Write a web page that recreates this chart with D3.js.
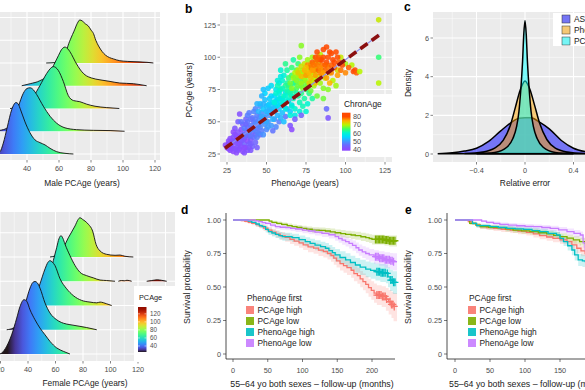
<!DOCTYPE html>
<html><head><meta charset="utf-8">
<script src="https://cdn.jsdelivr.net/npm/d3@7"></script>
<style>
body{margin:0;background:#fff}
text{font-family:"Liberation Sans",Arial,sans-serif}
</style></head><body>
<script>
// ---- panel a: ridgelines (age, density in row units), top row first ----
var maleDens = [
 [[52,0],[58,.02],[62,.1],[64,.35],[65.6,.75],[67.5,1.1],[69.4,1.4],[71.5,1.75],[73,1.89],[74.5,1.85],[76.5,1.72],[78.3,1.63],[80,1.45],[81.5,1.3],[83,1.0],[84.7,.75],[87,.5],[89,.35],[91.5,.24],[94,.18],[98,.1],[103,.07],[110,.05],[115,.03],[119,0]],
 [[36.7,0],[42,.09],[48,.22],[54.4,.57],[56.5,.88],[59.6,1.32],[61.5,1.58],[63.7,1.7],[65.5,1.62],[67.9,1.37],[70,1.08],[72,.84],[74,.64],[76.25,.48],[80.4,.34],[85.6,.26],[91.9,.19],[98,.12],[106.5,.09],[114.8,0]],
 [[29.4,0],[37.7,.13],[41,.3],[44,.53],[48.1,1.01],[52.3,1.54],[54.5,1.75],[56.5,1.84],[58,1.8],[59.6,1.67],[62.7,1.19],[65.8,.57],[69,.35],[73,.3],[77.3,.19],[82.5,.1],[89.8,.04],[97.7,0]],
 [[18,0],[23.1,.04],[27.3,.13],[31.4,.53],[34.6,1.1],[37.7,1.67],[40,1.88],[41.9,1.91],[44,1.82],[46,1.62],[50.2,1.1],[54.4,.66],[58.6,.35],[63.75,.15],[71,.07],[81.4,.04],[91.9,.03],[101,0]],
 [[20,0],[23.1,.1],[25.2,.48],[27.7,1.19],[30.4,1.94],[33.1,2.26],[34.5,2.2],[36,1.94],[38.75,1.41],[41.9,.93],[45,.62],[48.1,.5],[51.25,.4],[54.4,.25],[58.6,.1],[63.75,.03],[69,0]]
];
var femaleDens = [
 [[56,0],[60,.05],[63,.15],[65.7,.38],[69.3,.79],[74.2,1.28],[76.5,1.55],[77.8,1.62],[79.5,1.56],[81.5,1.48],[83.9,1.35],[87,1.07],[89.5,.52],[92.4,.25],[97.2,.11],[103.3,.07],[106.9,.08],[110.5,.03],[116.6,0]],
 [[50,0],[53.6,.05],[56,.3],[58.4,.85],[60.9,1.4],[62.5,1.75],[64,1.88],[65.3,1.78],[66.9,1.53],[70.5,1.06],[74.2,.65],[77.8,.37],[82.7,.23],[87.5,.14],[92.4,.05],[97.2,.03],[103.3,0],null,[105.7,0],[108,.03],[110,.02],[112,.04],[115.4,0],null,[126.3,0],[130,.03],[134,.06],[137,.04],[140.9,0]],
 [[40,0],[43,.1],[46.3,.48],[48.7,.89],[52.4,1.51],[54.5,1.78],[56,1.85],[57.5,1.8],[59.6,1.65],[63.3,1.1],[68.1,.69],[72.9,.41],[79,.21],[85.1,.14],[90,.11],[92.4,.14],[97.2,.07],[100.9,0]],
 [[24.5,0],[29.3,.07],[34.2,.34],[37.8,1.03],[41.5,1.72],[43.5,1.95],[45.1,1.99],[46.8,1.93],[48.7,1.72],[52.4,1.1],[56,.69],[60.9,.41],[65.7,.27],[70.5,.21],[77.8,.14],[82.7,.09],[90,0]],
 [[19,0],[20.9,.04],[24.5,.32],[28.1,.79],[31.8,1.48],[34.2,1.96],[37.1,2.24],[39.1,2.17],[41.5,1.82],[45.1,1.41],[48.7,1.07],[52.4,.79],[56,.52],[60.9,.25],[65.7,.11],[70.5,0]]
];
var ridgeRows = [4,3,2,1,0];
var maleAgeTicks = [40,60,80,100,120];
var femaleAgeTicks = [20,40,60,80,100,120];
var pcLegendTicks = [40,60,80,100,120];

// ---- panel b: [PhenoAge, PCAge, ChronAge] ----
var points = [
 [25,30,40],[26,33,41],[27,28,39],[28,35,40],[28,31,42],[29,38,41],[29,27,40],[30,34,39],[30,40,43],[31,30,41],[31,36,40],[32,33,42],[32,42,41],[33,29,40],[33,38,39],[34,35,43],[34,31,41],[35,40,42],[35,27,40],[36,33,44],[36,37,41],[37,30,43],[37,43,42],[38,35,40],[38,28,41],[39,39,44],[39,33,43],[40,36,42],[41,31,44],[41,42,43],[42,38,45],[43,34,44],[44,45,44],[30,45,42],[32,50,43],[33,56,41],[29,42,40],[27,37,39],[26,35,40],[35,48,43],[37,52,44],[40,28,42],[44,30,43],[36,26,41],[31,26,40],[34,44,41],[38,46,44],[42,50,45],[46,40,44],[24,32,39],
 [27,32,41],[29,35,42],[31,39,40],[33,33,41],[35,36,42],[37,39,43],[39,30,42],[28,29,40],[32,28,41],[34,39,42],[36,30,40],[40,33,43],[26,29,39],[30,29,41],[43,40,45],
 [36,45,47],[38,50,46],[39,42,48],[40,47,47],[41,53,46],[42,44,49],[43,49,48],[44,55,47],[45,41,49],[45,51,50],[46,46,48],[47,57,49],[47,43,47],[48,52,50],[49,48,49],[50,44,48],[50,55,50],[51,50,49],[52,60,50],[42,58,48],[40,39,46],[44,38,47],[48,40,49],[53,47,50],[36,40,46],[38,55,47],[46,62,49],[43,60,48],[34,50,46],[39,57,47],[55,52,49],[56,46,48],[58,50,47],[54,43,46],[62,54,46],
 [41,45,46],[43,52,47],[45,47,48],[47,50,49],[49,53,50],[40,52,46],[44,42,47],[46,54,48],[51,46,50],[37,48,45],
 [45,58,52],[46,64,53],[47,54,51],[48,60,54],[49,67,53],[50,58,52],[51,63,55],[52,55,51],[52,68,54],[53,60,53],[54,65,56],[54,52,52],[55,70,55],[55,58,53],[56,62,54],[57,67,56],[57,55,52],[58,72,57],[58,60,55],[59,64,56],[60,57,53],[60,68,55],[61,62,54],[62,73,56],[49,72,55],[51,76,54],[47,70,52],[63,60,52],[64,66,55],[50,50,51],[44,64,52],[53,78,56],[56,75,57],[59,53,52],[61,50,53],[65,58,54],[48,75,53],[66,63,57],[58,80,57],[59,90,60],
 [50,62,53],[52,64,54],[54,58,52],[56,66,55],[53,70,55],[55,62,53],[57,63,56],[59,68,57],[51,58,52],[48,64,52],
 [55,65,59],[56,72,60],[57,78,61],[58,68,58],[59,75,62],[60,82,60],[60,64,59],[61,70,61],[62,78,63],[62,60,58],[63,74,62],[64,84,64],[64,67,60],[65,71,62],[65,78,63],[66,62,59],[66,86,65],[67,74,63],[67,68,61],[68,80,64],[68,60,60],[69,76,65],[70,70,62],[70,84,66],[71,65,61],[72,78,64],[72,72,63],[73,88,66],[74,68,62],[74,82,65],[75,75,64],[76,64,60],[63,90,62],[61,86,60],[66,92,64],[69,90,65],[59,85,58],[77,72,63],[78,80,66],[71,58,59],[68,55,58],[73,62,61],[65,55,59],[75,58,60],[79,68,62],[70,95,64],[67,98,62],[62,95,63],[57,82,59],[64,73,61],
 [58,74,60],[60,76,61],[62,70,60],[63,80,62],[65,74,62],[67,80,63],[69,72,62],[71,80,64],[61,66,59],[66,70,61],[73,82,65],[64,78,63],
 [65,80,67],[66,76,68],[67,84,69],[68,88,70],[69,82,68],[70,78,67],[70,90,71],[71,86,70],[72,80,69],[72,93,72],[73,76,68],[74,88,70],[74,95,71],[75,82,69],[76,78,68],[76,90,72],[77,86,71],[78,74,67],[78,95,72],[79,82,70],[80,88,71],[80,78,69],[81,92,72],[82,70,67],[82,85,70],[83,96,72],[84,80,69],[85,90,71],[86,76,68],[87,84,70],[88,94,72],[90,88,71],[92,82,70],[95,90,72],[97,100,71],[100,95,69],[72,109,68],[76,98,69],[86,68,67],[89,75,68],[94,78,69],[84,102,70],[79,100,69],[71,100,68],[104,94,70],
 [68,84,68],[70,86,69],[72,88,70],[74,84,69],[76,86,70],[78,88,71],[80,84,70],[82,90,71],[75,78,67],[77,92,71],[73,90,69],[81,96,72],
 [72,85,74],[74,90,75],[75,86,76],[76,94,77],[77,88,75],[78,92,78],[78,84,74],[79,96,79],[80,90,77],[81,100,80],[81,86,76],[82,94,78],[82,104,81],[83,90,79],[88,108,82],[84,98,80],[85,86,75],[85,94,78],[86,100,81],[87,90,79],[88,96,80],[88,84,76],[89,92,78],[90,104,81],[91,88,77],[92,98,80],[93,92,79],[94,104,80],[95,86,76],[96,96,79],[97,90,78],[98,94,80],[100,88,77],[102,92,79],[105,89,80],[106,90,81],[107,88,79],[81,80,74],[77,80,73],[75,92,74],[90,80,75],[86,106,80],[91,103,82],[70,88,73],[84,88,77],
 [79,90,76],[80,94,78],[83,100,79],[85,98,80],[87,94,79],[84,92,77],[86,88,76],[89,100,80],[91,94,79],[93,96,80],[95,100,81],[82,98,79],
 [121,129,71],[121,100,64],[121,80,70],[109,89,70],[89,53,42],[88,60,45],[65,47,42],[68,52,43],[72,55,44],[66,44,40]
];
var fitLine = {intercept: 8.1, slope: 0.9, from: 23.7, to: 121.4};
var scatterTicks = [25,50,75,100,125];
var chronTicks = [40,50,60,70,80];

// ---- panel c: relative error densities ----
var errSeries = ["ASAge","PhenoAge","PCAge"];
var errFill = ["#0000ff","#ffa500","#00ffff"];
var errDens = [
 [[-0.72,0.01],[-0.6,0.06],[-0.5,0.15],[-0.4,0.3],[-0.3,0.65],[-0.2,1.2],[-0.12,1.6],[-0.05,1.85],[0,1.88],[0.05,1.87],[0.12,1.65],[0.2,1.3],[0.3,0.7],[0.4,0.3],[0.5,0.12],[0.6,0.05],[0.72,0.01]],
 [[-0.5,0.02],[-0.35,0.1],[-0.25,0.3],[-0.18,0.7],[-0.12,1.5],[-0.08,2.4],[-0.04,3.3],[0,3.78],[0.04,3.35],[0.08,2.5],[0.12,1.6],[0.18,0.75],[0.25,0.3],[0.35,0.1],[0.5,0.02]],
 [[-0.4,0.01],[-0.25,0.08],[-0.15,0.35],[-0.1,0.8],[-0.07,1.4],[-0.05,2.2],[-0.035,3.3],[-0.02,4.8],[-0.01,6.2],[0,6.9],[0.01,6.2],[0.02,4.8],[0.035,3.3],[0.05,2.2],[0.07,1.4],[0.1,0.8],[0.15,0.35],[0.25,0.08],[0.4,0.01]]
];
var errXTicks = [-0.4,0,0.4];
var errYTicks = [0,2,4,6];

// ---- panels d, e: Kaplan-Meier [t, surv, lower, upper] ----
var groups = ["PCAge high","PCAge low","PhenoAge high","PhenoAge low"];
var groupColors = ["#F8766D","#7CAE00","#00BFC4","#C77CFF"];
var kmD = [
 [[0,1,1,1],[12,.996,.988,1],[17,.990,.980,.999],[22,.983,.970,.994],[27,.975,.960,.988],[33,.965,.948,.980],[38,.955,.936,.972],[44,.940,.918,.960],[50,.925,.901,.947],[56,.910,.884,.934],[62,.895,.867,.921],[68,.882,.852,.910],[75,.870,.838,.899],[82,.855,.821,.886],[88,.842,.807,.874],[95,.830,.793,.864],[101,.815,.777,.850],[108,.800,.760,.837],[116,.790,.749,.828],[123,.775,.732,.815],[130,.765,.721,.806],[136,.750,.705,.792],[141,.735,.688,.779],[145,.715,.666,.761],[149,.695,.645,.742],[154,.675,.623,.724],[159,.660,.607,.710],[164,.645,.590,.696],[170,.625,.569,.678],[174,.600,.542,.655],[179,.585,.525,.642],[183,.560,.498,.619],[187,.540,.476,.601],[191,.520,.454,.583],[195,.495,.427,.561],[199,.475,.404,.543],[203,.455,.382,.526],[207,.440,.365,.513],[214,.430,.350,.506],[220,.410,.322,.492],[224,.390,.295,.478],[228,.370,.268,.465],[231,.355,.245,.455],[236,.355,.245,.455]],
 [[0,1,1,1],[48,1,1,1],[52,.992,.984,1],[56,.983,.972,.994],[63,.975,.962,.988],[70,.967,.952,.981],[78,.958,.941,.974],[85,.950,.932,.967],[92,.944,.925,.962],[99,.938,.918,.957],[106,.931,.910,.951],[114,.925,.903,.946],[124,.922,.899,.944],[133,.918,.894,.941],[140,.912,.887,.936],[147,.905,.879,.930],[155,.899,.872,.925],[162,.893,.865,.920],[170,.888,.859,.916],[176,.883,.853,.912],[184,.875,.843,.905],[191,.868,.835,.899],[196,.862,.828,.894],[200,.855,.818,.890],[218,.850,.810,.887],[225,.845,.802,.884],[236,.845,.802,.884]],
 [[0,1,1,1],[18,1,1,1],[22,.992,.983,1],[27,.983,.970,.994],[33,.970,.954,.984],[38,.958,.940,.974],[42,.950,.930,.968],[47,.930,.907,.951],[51,.913,.888,.936],[56,.903,.876,.927],[61,.893,.865,.919],[66,.884,.854,.911],[71,.876,.845,.904],[85,.868,.836,.897],[95,.853,.819,.884],[104,.838,.802,.871],[111,.826,.788,.860],[118,.813,.774,.849],[126,.801,.760,.838],[133,.789,.746,.828],[138,.772,.728,.813],[143,.756,.710,.799],[147,.739,.691,.784],[154,.720,.670,.767],[162,.702,.649,.751],[169,.683,.628,.734],[176,.664,.607,.717],[183,.649,.590,.704],[191,.634,.573,.690],[198,.624,.561,.682],[205,.614,.548,.676],[212,.607,.538,.671],[220,.601,.528,.668],[223,.575,.498,.647],[226,.552,.470,.630],[230,.535,.448,.618],[236,.535,.448,.618]],
 [[0,1,1,1],[27,1,1,1],[32,.994,.987,1],[37,.988,.978,.997],[42,.981,.969,.992],[47,.975,.961,.988],[54,.962,.946,.977],[61,.950,.932,.967],[68,.946,.927,.964],[76,.943,.923,.962],[83,.938,.917,.958],[90,.933,.911,.954],[100,.925,.902,.947],[109,.918,.894,.941],[118,.910,.885,.934],[128,.900,.873,.925],[138,.890,.862,.917],[147,.876,.846,.905],[152,.862,.830,.893],[157,.850,.816,.882],[162,.838,.802,.872],[167,.826,.788,.861],[172,.810,.771,.847],[177,.793,.752,.832],[181,.776,.733,.817],[186,.762,.717,.805],[191,.750,.703,.794],[196,.739,.691,.784],[203,.726,.674,.775],[210,.714,.658,.766],[218,.703,.643,.759],[226,.695,.632,.754],[230,.689,.624,.751],[236,.689,.624,.751]]
];
var censorD = [
 [207,209,211,213,215,217,219,221,226,228,230,232],
 [205,207,209,211,213,215,217,219,221,223,225,227,229,231,233],
 [207,209,211,213,215,217,219,222,227,229,231,233],
 [205,207,209,211,213,215,217,219,221,223,225,227,229,231]
];
var kmE = [
 [[0,1,1,1],[14,1,1,1],[19,.988,.978,.997],[24,.975,.962,.987],[30,.962,.946,.976],[36,.950,.932,.966],[45,.944,.925,.961],[55,.938,.918,.956],[66,.931,.910,.951],[79,.925,.903,.945],[90,.917,.894,.938],[102,.908,.884,.930],[112,.896,.870,.920],[121,.883,.856,.909],[131,.873,.845,.900],[140,.863,.834,.891],[150,.851,.820,.880],[160,.838,.806,.869],[167,.815,.780,.848],[174,.789,.751,.825],[180,.770,.730,.808],[186,.750,.708,.790],[195,.735,.690,.777],[205,.715,.668,.760],[215,.700,.650,.748],[225,.690,.638,.740],[236,.690,.638,.740]],
 [[0,1,1,1],[16,1,1,1],[21,.975,.963,.986],[30,.962,.948,.975],[36,.950,.934,.965],[48,.946,.929,.962],[60,.943,.925,.959],[72,.934,.915,.952],[83,.925,.905,.944],[95,.919,.898,.939],[107,.913,.891,.934],[119,.905,.882,.927],[131,.896,.872,.919],[141,.886,.861,.910],[150,.876,.850,.901],[160,.864,.837,.890],[169,.851,.823,.878],[178,.839,.810,.867],[186,.826,.796,.855],[195,.818,.787,.848],[210,.810,.778,.841],[225,.805,.772,.837],[236,.805,.772,.837]],
 [[0,1,1,1],[21,1,1,1],[25,.975,.963,.987],[31,.958,.943,.972],[50,.950,.933,.965],[62,.944,.926,.961],[74,.938,.919,.956],[86,.934,.914,.953],[98,.930,.909,.950],[110,.921,.899,.942],[121,.913,.890,.935],[133,.900,.875,.924],[145,.888,.862,.913],[150,.863,.834,.891],[155,.838,.806,.869],[161,.808,.772,.843],[167,.776,.737,.814],[171,.740,.698,.781],[176,.702,.657,.746],[182,.695,.649,.740],[186,.689,.642,.735],[200,.670,.621,.718],[215,.650,.599,.700],[236,.650,.599,.700]],
 [[0,1,1,1],[33,1,1,1],[38,.992,.984,1],[45,.983,.971,.994],[55,.975,.961,.988],[64,.967,.951,.981],[76,.962,.945,.977],[88,.957,.939,.973],[100,.953,.934,.970],[112,.950,.930,.967],[124,.944,.923,.962],[136,.938,.916,.957],[148,.926,.902,.947],[160,.913,.887,.936],[170,.900,.872,.925],[179,.888,.858,.915],[183,.830,.793,.864],[186,.776,.734,.815],[195,.760,.716,.801],[210,.745,.699,.788],[236,.745,.699,.788]]
];
var survTicks = [0,0.25,0.5,0.75,1];
var monthTicks = [0,50,100,150,200];

var svg = d3.select("body").append("svg").attr("width",585).attr("height",390);
var defs = svg.append("defs");
var GREY = "#ebebeb", TICKC = "#4d4d4d", TITLEC = "#222";
var TICKSIZE = 7.3, TITLESIZE = 8.4;

function clip(id,x0,y0,x1,y1){
  defs.append("clipPath").attr("id",id).append("rect").attr("x",x0).attr("y",y0).attr("width",x1-x0).attr("height",y1-y0);
}
function greyPanel(x0,y0,x1,y1){
  svg.append("rect").attr("x",x0).attr("y",y0).attr("width",x1-x0).attr("height",y1-y0).attr("fill",GREY);
}
function vlines(xs,vals,y0,y1,w){
  svg.append("g").selectAll("line").data(vals).join("line")
    .attr("x1",d=>xs(d)).attr("x2",d=>xs(d)).attr("y1",y0).attr("y2",y1)
    .attr("stroke","#fff").attr("stroke-width",w);
}
function hlines(ys,vals,x0,x1,w){
  svg.append("g").selectAll("line").data(vals).join("line")
    .attr("y1",d=>ys(d)).attr("y2",d=>ys(d)).attr("x1",x0).attr("x2",x1)
    .attr("stroke","#fff").attr("stroke-width",w);
}
function txt(x,y,s,o){
  o = o||{};
  var t = svg.append("text").attr("x",x).attr("y",y).text(s)
    .attr("font-size",o.size||TICKSIZE).attr("fill",o.fill||TICKC)
    .attr("text-anchor",o.anchor||"start");
  if(o.bold) t.attr("font-weight","bold");
  if(o.rot) t.attr("transform","rotate(-90,"+x+","+y+")");
  return t;
}
function xTicks(xs,vals,y,fmt){
  vals.forEach(function(v){
    svg.append("line").attr("x1",xs(v)).attr("x2",xs(v)).attr("y1",y).attr("y2",y+2.5).attr("stroke","#333").attr("stroke-width",0.6);
    txt(xs(v),y+10.5,fmt?fmt(v):v,{anchor:"middle"});
  });
}
function yTicks(ys,vals,x,fmt){
  vals.forEach(function(v){
    svg.append("line").attr("x1",x-2.5).attr("x2",x).attr("y1",ys(v)).attr("y2",ys(v)).attr("stroke","#333").attr("stroke-width",0.6);
    txt(x-4,ys(v)+2.6,fmt?fmt(v):v,{anchor:"end"});
  });
}
function turboGrad(id,x1,x2,y1,y2){
  var g = defs.append("linearGradient").attr("id",id).attr("gradientUnits","userSpaceOnUse")
    .attr("x1",x1).attr("x2",x2).attr("y1",y1).attr("y2",y2);
  d3.range(0,1.0001,0.05).forEach(function(t){
    g.append("stop").attr("offset",t).attr("stop-color",d3.interpolateTurbo(t));
  });
}
function drawRidges(dens,xs,ys,grad,clipId){
  var g = svg.append("g").attr("clip-path","url(#"+clipId+")");
  dens.forEach(function(pts,i){
    var r = ridgeRows[i];
    var area = d3.area().defined(d=>d).x(d=>xs(d[0])).y0(ys(r)).y1(d=>ys(r+d[1])).curve(d3.curveMonotoneX);
    var line = d3.line().defined(d=>d).x(d=>xs(d[0])).y(d=>ys(r+d[1])).curve(d3.curveMonotoneX);
    g.append("path").attr("d",area(pts)).attr("fill","url(#"+grad+")");
    g.append("path").attr("d",line(pts)).attr("fill","none").attr("stroke","#111").attr("stroke-width",0.9);
  });
}

// ===== panel a (male) =====
var mx = d3.scaleLinear().domain([40,120]).range([27,155]);
var my = d3.scaleLinear().domain([0,6]).range([154,17.5]);
greyPanel(0,12,160,160);
clip("clipM",0,12,160,160);
vlines(mx,[20,30,50,70,90,110],12,160,0.5);
vlines(mx,[40,60,80,100,120],12,160,1.1);
hlines(my,d3.range(0,7),0,160,1.1);
turboGrad("gradM",mx(15),mx(125),0,0);
drawRidges(maleDens,mx,my,"gradM","clipM");
xTicks(mx,maleAgeTicks,160);
txt(82,186,"Male PCAge (years)",{size:TITLESIZE,fill:TITLEC,anchor:"middle"});

// ===== panel a (female) =====
var fx = d3.scaleLinear().domain([40,120]).range([28,138]);
var fy = d3.scaleLinear().domain([0,5]).range([354,232.75]);
greyPanel(0,212,175,361);
clip("clipF",0,212,175,361);
vlines(fx,[20,30,50,70,90,110,130],212,361,0.5);
vlines(fx,[40,60,80,100,120,140],212,361,1.1);
hlines(fy,d3.range(0,6),0,175,1.1);
turboGrad("gradF",fx(25),fx(137),0,0);
drawRidges(femaleDens,fx,fy,"gradF","clipF");
xTicks(fx,femaleAgeTicks,361);
txt(85,386,"Female PCAge (years)",{size:TITLESIZE,fill:TITLEC,anchor:"middle"});
// female legend
svg.append("rect").attr("x",134).attr("y",286).attr("width",52).attr("height",76).attr("fill","#fff");
txt(139,300,"PCAge",{size:7.3,fill:TITLEC});
var fl = d3.scaleLinear().domain([25,137]).range([352,307]);
turboGrad("gradFL",0,0,fl(25),fl(137));
svg.append("rect").attr("x",138).attr("y",fl(137)).attr("width",8.5).attr("height",fl(25)-fl(137)).attr("fill","url(#gradFL)");
pcLegendTicks.forEach(function(v){
  svg.append("line").attr("x1",138).attr("x2",140).attr("y1",fl(v)).attr("y2",fl(v)).attr("stroke","#fff").attr("stroke-width",0.5);
  svg.append("line").attr("x1",144.5).attr("x2",146.5).attr("y1",fl(v)).attr("y2",fl(v)).attr("stroke","#fff").attr("stroke-width",0.5);
  txt(150,fl(v)+2.3,v,{size:6.3});
});

// ===== panel b =====
var bx = d3.scaleLinear().domain([25,125]).range([227,385]);
var by = d3.scaleLinear().domain([25,125]).range([154,25]);
greyPanel(220,13,392,162);
vlines(bx,[37.5,62.5,87.5,112.5],13,162,0.5);
vlines(bx,scatterTicks,13,162,1.1);
hlines(by,[37.5,62.5,87.5,112.5],220,392,0.5);
hlines(by,scatterTicks,220,392,1.1);
var chronCol = d3.scaleLinear().domain([40,45,50,55,60,65,70,75,80])
  .range(["#8c4bff","#6a6aff","#3f9cff","#00d8ff","#00f5d0","#40ff60","#b8f500","#ffb000","#ff4a00"]).clamp(true);
svg.append("g").selectAll("circle").data(points).join("circle")
  .attr("cx",d=>bx(d[0])).attr("cy",d=>by(d[1])).attr("r",2.8)
  .attr("fill",d=>chronCol(d[2])).attr("opacity",0.88);
var fitPts = [fitLine.from,fitLine.to].map(v=>[v,fitLine.intercept+fitLine.slope*v]);
var fl2 = d3.line().x(d=>bx(d[0])).y(d=>by(d[1]));
svg.append("path").attr("d",fl2(fitPts)).attr("stroke","#8f8fe8").attr("stroke-width",1.2).attr("fill","none");
svg.append("path").attr("d",fl2(fitPts)).attr("stroke","#8b1010").attr("stroke-width",3.6).attr("stroke-dasharray","9,5").attr("fill","none");
yTicks(by,scatterTicks,220);
xTicks(bx,scatterTicks,162);
txt(305,186,"PhenoAge (years)",{size:TITLESIZE,fill:TITLEC,anchor:"middle"});
txt(192,90,"PCAge (years)",{size:TITLESIZE,fill:TITLEC,anchor:"middle",rot:true});
// ChronAge legend
svg.append("rect").attr("x",339).attr("y",94).attr("width",53).attr("height",63).attr("fill","#fff");
txt(344,107,"ChronAge",{size:8.4,fill:TITLEC});
var cl = d3.scaleLinear().domain([38,85]).range([150.7,112.7]);
var cg = defs.append("linearGradient").attr("id","gradC").attr("gradientUnits","userSpaceOnUse")
  .attr("x1",0).attr("x2",0).attr("y1",cl(38)).attr("y2",cl(85));
d3.range(38,85.1,1).forEach(function(v){ cg.append("stop").attr("offset",(v-38)/47).attr("stop-color",chronCol(v)); });
svg.append("rect").attr("x",342).attr("y",cl(85)).attr("width",8.5).attr("height",cl(38)-cl(85)).attr("fill","url(#gradC)");
chronTicks.forEach(function(v){ txt(353,cl(v)+2.6,v,{size:7.3}); });

// ===== panel c =====
var cx = d3.scaleLinear().domain([-0.4,0.4]).range([476.5,573.5]);
var cy = d3.scaleLinear().domain([0,6]).range([154,38]);
greyPanel(433,12,590,162);
vlines(cx,[-0.6,-0.2,0.2,0.6],12,162,0.5);
vlines(cx,[-0.4,0,0.4],12,162,1.1);
hlines(cy,[1,3,5,7],433,590,0.5);
hlines(cy,errYTicks,433,590,1.1);
errDens.forEach(function(pts,i){
  var a = d3.area().x(d=>cx(d[0])).y0(cy(0)).y1(d=>cy(d[1])).curve(d3.curveMonotoneX);
  var l = d3.line().x(d=>cx(d[0])).y(d=>cy(d[1])).curve(d3.curveMonotoneX);
  svg.append("path").attr("d",a(pts)).attr("fill",errFill[i]).attr("fill-opacity",0.5);
  svg.append("path").attr("d",l(pts)+"Z").attr("fill","none").attr("stroke","#000").attr("stroke-width",1.5);
});
yTicks(cy,errYTicks,433);
xTicks(cx,errXTicks,162,v=>v===0?"0":String(v).replace("-","\u2212"));
txt(525,186,"Relative error",{size:TITLESIZE,fill:TITLEC,anchor:"middle"});
txt(411,83,"Density",{size:TITLESIZE,fill:TITLEC,anchor:"middle",rot:true});
svg.append("rect").attr("x",553).attr("y",13).attr("width",40).attr("height",33).attr("fill","#fff");
errSeries.forEach(function(s,i){
  var yy = 15+i*11;
  svg.append("rect").attr("x",562).attr("y",yy).attr("width",8).attr("height",8).attr("fill",GREY);
  svg.append("rect").attr("x",562).attr("y",yy).attr("width",8).attr("height",8).attr("fill",errFill[i]).attr("fill-opacity",0.5).attr("stroke","#333").attr("stroke-width",0.5);
  txt(574,yy+7,s,{size:8.4,fill:TITLEC});
});

// ===== panels d, e =====
var sy = d3.scaleLinear().domain([0,1]).range([354,220]);
function survival(km,censor,xs,x0,x1,title,legX){
  svg.append("line").attr("x1",x0).attr("x2",x0).attr("y1",213).attr("y2",359).attr("stroke","#222").attr("stroke-width",0.8);
  svg.append("line").attr("x1",x0).attr("x2",x1).attr("y1",359).attr("y2",359).attr("stroke","#222").attr("stroke-width",0.8);
  km.forEach(function(rows,i){
    var a = d3.area().x(d=>xs(d[0])).y0(d=>sy(d[2])).y1(d=>sy(d[3])).curve(d3.curveStepAfter);
    svg.append("path").attr("d",a(rows)).attr("fill",groupColors[i]).attr("fill-opacity",0.2);
  });
  km.forEach(function(rows,i){
    var l = d3.line().x(d=>xs(d[0])).y(d=>sy(d[1])).curve(d3.curveStepAfter);
    svg.append("path").attr("d",l(rows)).attr("fill","none").attr("stroke",groupColors[i]).attr("stroke-width",1.3);
    if(censor){
      censor[i].forEach(function(t){
        var s = rows.filter(r=>r[0]<=t).pop()[1];
        var px = xs(t), py = sy(s);
        svg.append("path").attr("d","M"+(px-3.5)+","+py+"H"+(px+3.5)+"M"+px+","+(py-4)+"V"+(py+4))
          .attr("stroke",groupColors[i]).attr("stroke-width",1.3);
      });
    }
  });
  survTicks.forEach(function(v){
    svg.append("line").attr("x1",x0-3).attr("x2",x0).attr("y1",sy(v)).attr("y2",sy(v)).attr("stroke","#222").attr("stroke-width",0.6);
    txt(x0-5,sy(v)+2.6,v===0?"0":v.toFixed(2),{anchor:"end"});
  });
  monthTicks.forEach(function(v){
    svg.append("line").attr("x1",xs(v)).attr("x2",xs(v)).attr("y1",359).attr("y2",362).attr("stroke","#222").attr("stroke-width",0.6);
    txt(xs(v),372.5,v,{anchor:"middle"});
  });
  txt(x0-36,287,"Survival probability",{size:8.8,fill:TITLEC,anchor:"middle",rot:true});
  txt(legX+1,301,title,{size:8.4,fill:TITLEC});
  groups.forEach(function(gname,i){
    var yy = 306+i*11;
    svg.append("rect").attr("x",legX).attr("y",yy).attr("width",8).attr("height",8).attr("fill",groupColors[i]).attr("opacity",0.9);
    txt(legX+11.5,yy+7.3,gname,{size:8.4,fill:TITLEC});
  });
}
var dx = d3.scaleLinear().domain([0,200]).range([233,372]);
survival(kmD,censorD,dx,226,395,"PhenoAge first",246);
txt(312,387,"55\u201364 yo both sexes \u2013 follow-up (months)",{size:8.8,fill:TITLEC,anchor:"middle"});
var ex = d3.scaleLinear().domain([0,150]).range([455,560]);
survival(kmE,null,ex,447,600,"PCAge first",468);
txt(449,387,"55\u201364 yo both sexes \u2013 follow-up (months)",{size:8.8,fill:TITLEC});

// panel letters
txt(185,13,"b",{size:12,fill:"#000",bold:true});
txt(404,11,"c",{size:12,fill:"#000",bold:true});
txt(181,214,"d",{size:12,fill:"#000",bold:true});
txt(405,214,"e",{size:12,fill:"#000",bold:true});
</script></body></html>
